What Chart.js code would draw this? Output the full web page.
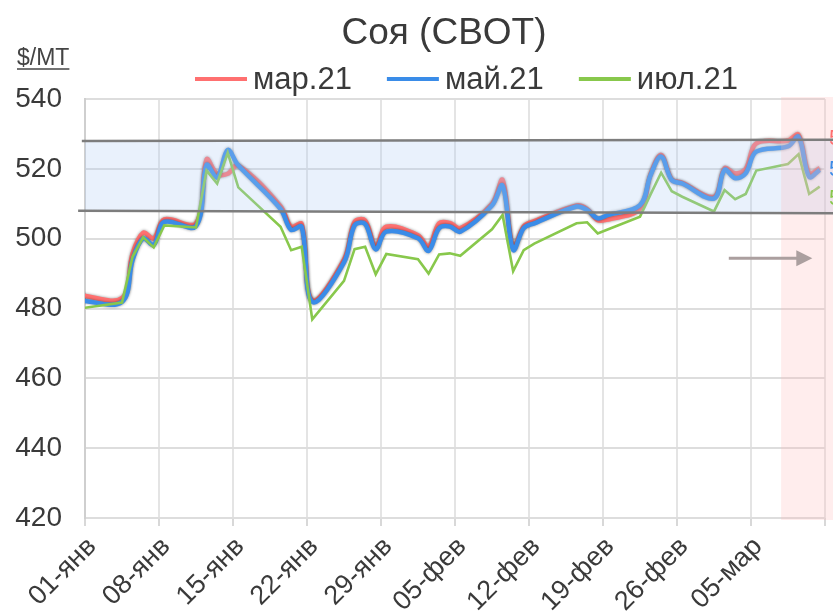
<!DOCTYPE html>
<html><head><meta charset="utf-8">
<script src="https://cdn.jsdelivr.net/npm/chart.js@4.4.0/dist/chart.umd.min.js"></script>
<style>html,body{margin:0;padding:0;background:#fff}#wrap{width:833px;height:613px;position:relative}canvas{display:block}</style>
</head><body><div id="wrap"><canvas id="c" width="833" height="613" style="width:833px;height:613px"></canvas></div>
<script>
// ---- data ----
const titleText = 'Соя (CBOT)';
const unitText = '$/MT';
const seriesNames = ['мар.21', 'май.21', 'июл.21'];
const tickLabels = ['01-янв','08-янв','15-янв','22-янв','29-янв','05-фев','12-фев','19-фев','26-фев','05-мар',''];
// trading day index counted from 01-янв (= 0); -1 = 31-дек
const days = [-1,3,4,5,6,7,10,11,12,13,14,18,19,20,21,24,25,26,27,28,31,32,33,34,35,38,39,40,41,42,46,47,48,49,52,53,54,55,56,59,60,61,62,63,66,67,68,69];
const mar21 = [483.8,483.0,495.8,501.7,500.1,505.5,504.4,522.7,518.5,518.6,521.0,509.3,503.4,504.2,482.4,494.0,504.8,505.2,497.7,503.4,501.0,497.7,504.4,504.5,503.0,510.0,516.8,497.3,503.5,505.0,509.5,508.5,505.3,505.5,508.5,518.5,524.0,517.0,516.0,512.0,520.2,518.7,520.0,527.3,528.1,529.8,518.7,520.2];
const may21 = [482.3,481.9,493.9,500.1,498.2,504.8,503.6,521.1,517.5,525.4,521.0,508.5,502.5,503.4,481.9,493.2,503.8,504.2,496.9,502.0,500.1,496.5,503.0,503.5,502.0,509.5,515.2,496.8,503.0,504.4,509.2,508.2,505.8,506.8,509.6,518.2,523.5,516.8,515.8,511.5,519.7,517.3,518.7,524.9,526.4,529.2,517.7,519.7];
const jul21 = [480.0,481.7,494.8,500.4,497.5,503.8,503.2,519.5,515.8,524.6,514.7,503.4,496.7,497.7,476.9,487.9,497.0,497.7,489.8,495.6,494.1,490.0,495.5,495.8,495.1,502.7,506.8,490.7,496.7,498.6,504.4,504.7,501.5,502.7,506.3,512.7,518.9,513.6,512.0,507.8,513.9,511.3,512.8,519.5,521.4,524.2,512.8,514.9];
// price channel (day index, value)
const channelTopX = [-0.3, 70.8];
const channelTop = [528.0, 528.3];
const channelBottomX = [-0.65, 70.8];
const channelBottom = [508.0, 507.3];
const forecastStart = 65.85;          // shaded current period starts here (day index)
const arrowX = [60.9, 68.8];
const arrowY = 494.4;
const yMin = 420, yMax = 540, yStep = 20;

// ---- styles ----
const colors = ['rgb(255,112,112)', 'rgb(58,140,232)', 'rgb(136,200,76)'];
const FONT = "'Liberation Sans', Arial, Helvetica, sans-serif";
const TXT = '#3a3a3a';

const toPts = arr => arr.map((v, i) => ({x: days[i] + 0.5, y: v}));

const lerp = (xs, vs, t) => vs[0] + (vs[1] - vs[0]) * (t - xs[0]) / (xs[1] - xs[0]);

const shadowPlugin = {
  id: 'shadow',
  beforeDatasetDraw(chart, args) {
    const ctx = chart.ctx;
    ctx.save();
    if (args.index < 2) {
      ctx.shadowColor = 'rgba(0,0,0,0.45)';
      ctx.shadowBlur = 3;
      ctx.shadowOffsetX = 0;
      ctx.shadowOffsetY = 0;
    }
  },
  afterDatasetDraw(chart) { chart.ctx.restore(); }
};

const overlayPlugin = {
  id: 'overlay',
  afterDatasetsDraw(chart) {
    const {ctx, chartArea, scales: {x, y}} = chart;
    const W = chart.width;
    ctx.save();
    // channel band
    const x0 = 0, x1 = channelTopX[1];
    ctx.beginPath();
    ctx.moveTo(x.getPixelForValue(x0), y.getPixelForValue(lerp(channelTopX, channelTop, x0)));
    ctx.lineTo(x.getPixelForValue(x1), y.getPixelForValue(lerp(channelTopX, channelTop, x1)));
    ctx.lineTo(x.getPixelForValue(x1), y.getPixelForValue(lerp(channelBottomX, channelBottom, x1)));
    ctx.lineTo(x.getPixelForValue(x0), y.getPixelForValue(lerp(channelBottomX, channelBottom, x0)));
    ctx.closePath();
    ctx.fillStyle = 'rgba(175,205,245,0.28)';
    ctx.fill();
    // shaded current period
    const fx = x.getPixelForValue(forecastStart);
    ctx.fillStyle = 'rgba(255,185,185,0.25)';
    ctx.fillRect(fx, chartArea.top - 2, W - fx, chartArea.bottom - chartArea.top + 4);
    // channel lines
    ctx.strokeStyle = '#7d7d7d';
    ctx.lineWidth = 2.5;
    ctx.beginPath();
    ctx.moveTo(x.getPixelForValue(channelTopX[0]), y.getPixelForValue(channelTop[0]));
    ctx.lineTo(x.getPixelForValue(channelTopX[1]), y.getPixelForValue(channelTop[1]));
    ctx.moveTo(x.getPixelForValue(channelBottomX[0]), y.getPixelForValue(channelBottom[0]));
    ctx.lineTo(x.getPixelForValue(channelBottomX[1]), y.getPixelForValue(channelBottom[1]));
    ctx.stroke();
    // arrow
    const ax0 = x.getPixelForValue(arrowX[0]), ax1 = x.getPixelForValue(arrowX[1]);
    const ay = y.getPixelForValue(arrowY);
    ctx.strokeStyle = '#ab9f9f';
    ctx.fillStyle = '#ab9f9f';
    ctx.lineWidth = 3;
    ctx.beginPath();
    ctx.moveTo(ax0, ay); ctx.lineTo(ax1 - 14, ay); ctx.stroke();
    ctx.beginPath();
    ctx.moveTo(ax1, ay); ctx.lineTo(ax1 - 16, ay - 8); ctx.lineTo(ax1 - 16, ay + 8); ctx.closePath();
    ctx.fill();
    // last value labels (mostly cut off at the right edge)
    const last = [mar21, may21, jul21].map(a => a[a.length - 1]);
    const offs = [-29, 0, 12];
    ctx.font = '22px ' + FONT;
    ctx.textAlign = 'left';
    ctx.textBaseline = 'middle';
    last.forEach((v, i) => {
      ctx.fillStyle = colors[i];
      ctx.fillText(v.toFixed(0), chartArea.right + 4, y.getPixelForValue(v) + offs[i]);
    });
    ctx.restore();
  }
};

const textPlugin = {
  id: 'texts',
  afterDraw(chart) {
    const ctx = chart.ctx;
    ctx.save();
    ctx.fillStyle = TXT;
    ctx.textBaseline = 'alphabetic';
    // title
    ctx.font = '37px ' + FONT;
    ctx.textAlign = 'center';
    ctx.fillText(titleText, 444, 44);
    // unit
    ctx.font = '23px ' + FONT;
    ctx.textAlign = 'left';
    ctx.fillStyle = '#444';
    ctx.fillText(unitText, 17, 65);
    const uw = ctx.measureText(unitText).width;
    ctx.strokeStyle = '#444';
    ctx.lineWidth = 1.5;
    ctx.beginPath(); ctx.moveTo(17, 69); ctx.lineTo(17 + uw, 69); ctx.stroke();
    // legend
    ctx.font = '31px ' + FONT;
    let lx = 195;
    seriesNames.forEach((n, i) => {
      ctx.strokeStyle = colors[i];
      ctx.lineWidth = 4;
      ctx.beginPath(); ctx.moveTo(lx, 79); ctx.lineTo(lx + 52, 79); ctx.stroke();
      ctx.fillStyle = TXT;
      ctx.fillText(n, lx + 58, 89);
      lx += 58 + ctx.measureText(n).width + 35;
    });
    ctx.restore();
  }
};

new Chart(document.getElementById('c'), {
  type: 'line',
  data: {
    datasets: [
      {label: seriesNames[0], data: toPts(mar21), borderColor: colors[0], backgroundColor: colors[0], borderWidth: 4.5, tension: 0.35, pointRadius: 0, order: 3, clip: {left: 0, right: 10, top: 10, bottom: 10}},
      {label: seriesNames[1], data: toPts(may21), borderColor: colors[1], backgroundColor: colors[1], borderWidth: 4.5, tension: 0.35, pointRadius: 0, order: 2, clip: {left: 0, right: 10, top: 10, bottom: 10}},
      {label: seriesNames[2], data: toPts(jul21), borderColor: colors[2], backgroundColor: colors[2], borderWidth: 2.6, tension: 0, pointRadius: 0, order: 1, clip: {left: 0, right: 10, top: 10, bottom: 10}}
    ]
  },
  options: {
    responsive: false,
    animation: false,
    devicePixelRatio: 1,
    layout: {padding: {top: 99, right: 8, left: 0, bottom: 0}},
    plugins: {legend: {display: false}, title: {display: false}, tooltip: {enabled: false}},
    scales: {
      x: {
        type: 'linear', min: 0, max: 70,
        afterFit: s => { s.height = 95; s.paddingLeft = 0; s.paddingRight = 0; },
        afterBuildTicks: s => { s.ticks = tickLabels.map((t, i) => ({value: i * 7})); },
        ticks: {
          autoSkip: false, maxRotation: 45, minRotation: 45, color: TXT,
          font: {family: FONT, size: 27}, padding: 5, labelOffset: 7,
          callback: v => tickLabels[Math.round(v / 7)]
        },
        grid: {color: '#e4e4e4', lineWidth: 2, borderDash: [7, 7], tickLength: 8, tickColor: '#d8d8d8', tickBorderDash: [], tickWidth: 2},
        border: {display: false}
      },
      y: {
        min: yMin, max: yMax,
        afterFit: s => { s.width = 85; },
        ticks: {stepSize: yStep, color: TXT, font: {family: FONT, size: 28}, padding: 23},
        grid: {color: '#dddddd', lineWidth: 2, drawTicks: false},
        border: {color: '#cfcfcf', width: 2}
      }
    }
  },
  plugins: [shadowPlugin, overlayPlugin, textPlugin]
});
</script>
</body></html>
